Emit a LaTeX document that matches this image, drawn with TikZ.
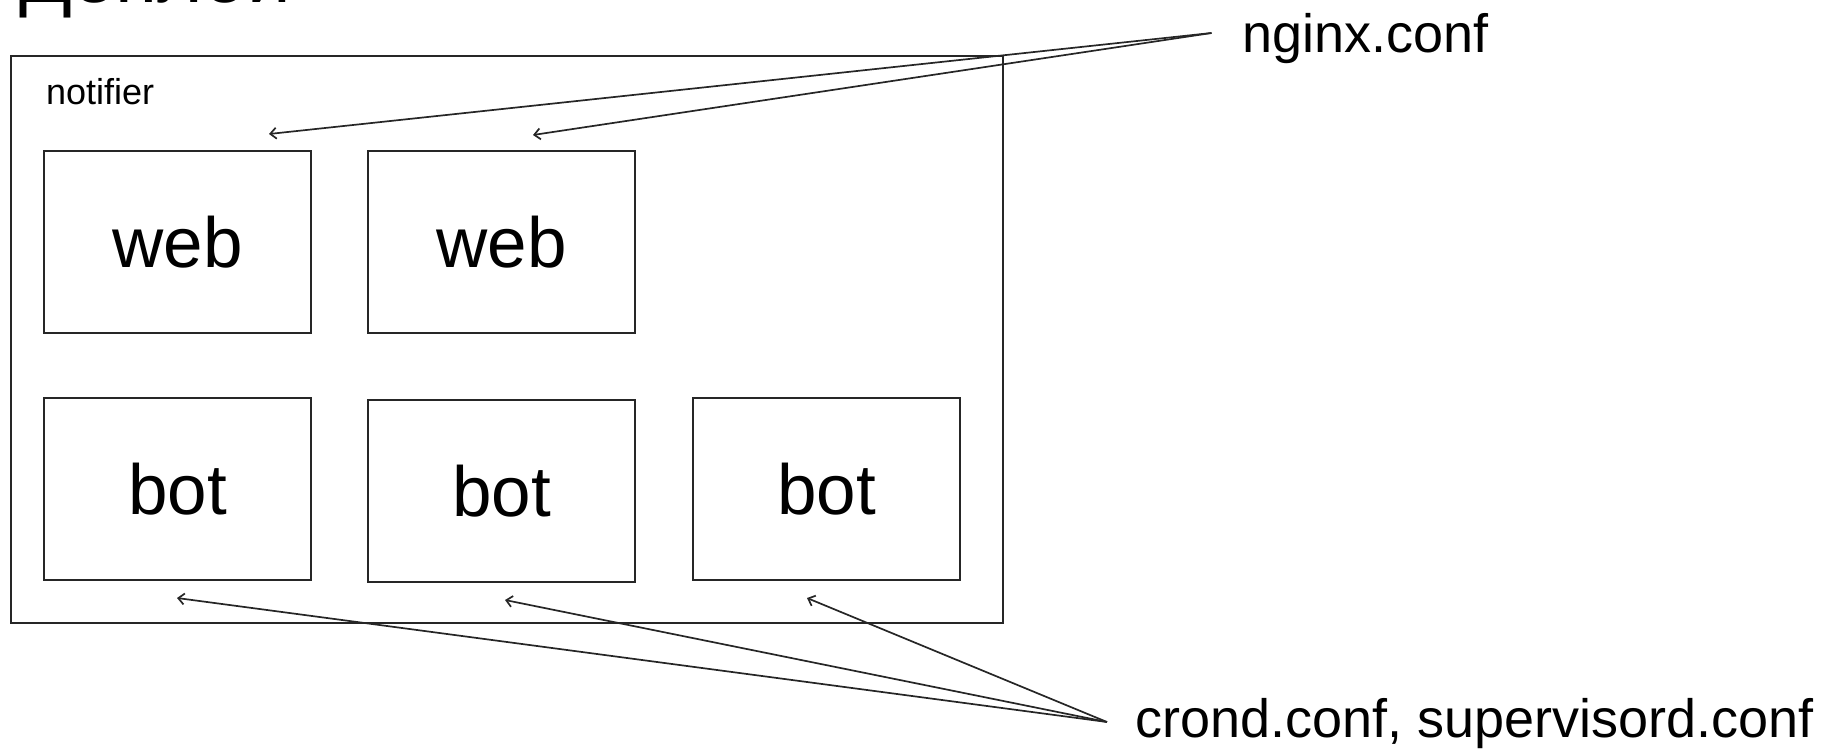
\documentclass[tikz,border=0pt]{standalone}
\usepackage{fontspec}
\setmainfont{Liberation Sans}
\usetikzlibrary{arrows.meta}
\begin{document}
\begin{tikzpicture}[x=1pt,y=-1pt,
  ink/.style={draw=black!85, line width=1.7pt},
  svcbox/.style={ink, minimum width=267pt, minimum height=182pt, inner sep=0pt,
    font=\fontsize{71}{80}\selectfont},
  frame/.style={ink, minimum width=992pt, minimum height=567pt, inner sep=0pt},
  conn/.style={ink, -{Straight Barb[length=6pt,width=11pt]}},
  conf/.style={font=\fontsize{54}{62}\selectfont, inner sep=0pt, anchor=base west}]
\useasboundingbox (0,0) rectangle (1826,749);

% heading, mostly above the page edge
\node[anchor=base west, inner sep=0pt, font=\fontsize{78}{90}\selectfont] (title) at (19,3) {Деплой};

% the notifier project and its containers
\node[frame] (notifierbox) at (507,339.5) {};
\node[anchor=base west, inner sep=0pt, font=\fontsize{36}{42}\selectfont] (notifier) at (46,105) {notifier};

\node[svcbox] (web1) at (177.5,242) {web};
\node[svcbox] (web2) at (501.5,242) {web};
\node[svcbox] (bot1) at (177.5,489) {bot};
\node[svcbox] (bot2) at (501.5,491) {bot};
\node[svcbox] (bot3) at (826.5,489) {bot};

% configuration files
\node[conf] (nginx) at (1242,53) {nginx.conf};
\node[conf] (crond) at (1135,737) {crond.conf, supervisord.conf};

% where the pointers start and end
\coordinate (nginxsrc) at (1211.5,33);
\coordinate (crondsrc) at (1107,722);
\coordinate (toweb1) at (269,134);
\coordinate (toweb2) at (533,135);
\coordinate (tobot1) at (177,598);
\coordinate (tobot2) at (505,600);
\coordinate (tobot3) at (807,598);

\draw[conn] (nginxsrc) -- (toweb1);
\draw[conn] (nginxsrc) -- (toweb2);
\draw[conn] (crondsrc) -- (tobot1);
\draw[conn] (crondsrc) -- (tobot2);
\draw[conn] (crondsrc) -- (tobot3);
\end{tikzpicture}
\end{document}
